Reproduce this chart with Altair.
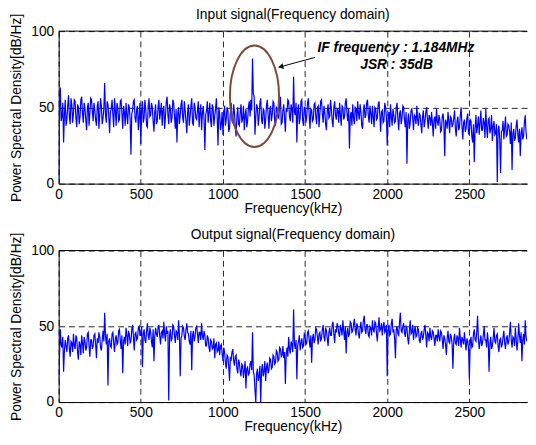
import altair as alt
import pandas as pd

FONT = "Liberation Sans"
FREQ_STEP_KHZ = 5

# PSD of the input signal (dB/Hz), one value every 5 kHz from 0 to 2850 kHz
input_psd = [
    2, 50, 63, 41, 44, 53, 27, 45, 55, 38, 42, 51, 58, 44, 39, 56, 52, 40, 46, 55,
    54, 43, 37, 52, 50, 39, 44, 55, 57, 46, 40, 53, 49, 42, 35, 50, 53, 38, 46, 56,
    55, 47, 41, 53, 48, 42, 38, 51, 54, 36, 45, 56, 51, 39, 43, 49, 66, 45, 40, 54,
    52, 44, 33, 47, 49, 55, 45, 37, 56, 48, 38, 53, 50, 41, 42, 54, 55, 46, 36, 51,
    47, 38, 53, 45, 39, 52, 50, 42, 19, 46, 48, 54, 55, 43, 40, 49, 51, 35, 44, 53,
    26, 48, 54, 40, 43, 55, 49, 38, 37, 51, 56, 44, 45, 53, 50, 41, 34, 47, 52, 39,
    41, 50, 55, 42, 47, 53, 38, 48, 51, 36, 44, 54, 57, 45, 39, 52, 49, 40, 43, 55,
    53, 44, 36, 49, 27, 46, 50, 39, 45, 52, 55, 43, 40, 54, 48, 41, 33, 47, 52, 38,
    44, 51, 56, 40, 38, 53, 50, 43, 42, 48, 54, 37, 47, 52, 35, 46, 51, 42, 22, 45,
    48, 54, 40, 47, 53, 41, 37, 52, 50, 38, 44, 49, 56, 43, 25, 50, 46, 35, 39, 47,
    32, 45, 51, 38, 42, 50, 48, 34, 36, 46, 53, 41, 40, 52, 47, 37, 31, 44, 50, 39,
    38, 47, 52, 40, 43, 51, 35, 45, 49, 37, 41, 50, 54, 44, 55, 48, 82, 59, 57, 32,
    44, 52, 50, 38, 44, 53, 56, 42, 39, 49, 48, 36, 42, 51, 55, 45, 36, 48, 51, 41,
    45, 54, 53, 41, 38, 50, 49, 44, 43, 52, 57, 39, 40, 48, 52, 43, 34, 49, 47, 55,
    54, 44, 41, 52, 49, 40, 70, 47, 45, 53, 27, 48, 52, 39, 43, 54, 55, 42, 38, 50,
    50, 40, 44, 53, 56, 45, 36, 49, 48, 41, 42, 52, 53, 44, 39, 50, 51, 37, 46, 54,
    55, 46, 40, 51, 47, 39, 35, 48, 52, 43, 44, 55, 49, 41, 37, 50, 54, 45, 42, 49,
    48, 40, 53, 45, 38, 51, 50, 42, 44, 53, 56, 46, 41, 49, 23, 44, 47, 38, 52, 43,
    39, 50, 49, 41, 54, 46, 42, 52, 47, 38, 36, 48, 52, 43, 45, 53, 55, 44, 40, 51,
    46, 39, 51, 44, 37, 50, 49, 42, 43, 52, 54, 45, 34, 47, 48, 40, 41, 53, 50, 44,
    25, 43, 47, 37, 52, 44, 38, 49, 45, 40, 41, 50, 53, 42, 35, 46, 48, 39, 43, 51,
    50, 42, 37, 47, 13, 41, 46, 36, 40, 48, 49, 43, 35, 45, 44, 39, 51, 42, 38, 46,
    45, 39, 33, 44, 48, 37, 41, 47, 50, 42, 36, 45, 43, 38, 47, 40, 31, 42, 44, 36,
    49, 41, 38, 45, 42, 34, 35, 44, 46, 39, 18, 42, 40, 36, 47, 41, 33, 44, 43, 37,
    39, 43, 48, 36, 31, 41, 44, 35, 37, 45, 50, 38, 29, 40, 42, 34, 36, 43, 46, 33,
    34, 42, 41, 31, 27, 39, 14, 36, 45, 33, 38, 44, 32, 40, 48, 35, 35, 43, 40, 30,
    49, 37, 30, 42, 43, 33, 36, 45, 28, 38, 41, 32, 33, 39, 1, 35, 38, 29, 7, 34,
    35, 41, 29, 37, 44, 31, 32, 39, 38, 34, 26, 40, 9, 33, 36, 28, 30, 38, 42, 32,
    27, 36, 18, 33, 37, 29, 31, 40, 45, 34, 29,
]

# PSD of the output signal (dB/Hz), same frequency grid
output_psd = [
    15, 30, 48, 38, 36, 43, 20, 34, 41, 37, 33, 42, 44, 35, 30, 40, 39, 33, 45, 37,
    35, 44, 42, 33, 28, 40, 38, 31, 44, 39, 32, 43, 40, 34, 36, 45, 46, 37, 30, 41,
    41, 35, 37, 44, 45, 38, 29, 42, 39, 46, 43, 36, 34, 41, 47, 40, 59, 44, 38, 45,
    11, 40, 42, 37, 36, 45, 46, 39, 33, 42, 44, 38, 39, 47, 48, 41, 35, 44, 19, 40,
    43, 38, 49, 44, 37, 47, 45, 39, 40, 48, 51, 43, 34, 45, 46, 41, 42, 49, 50, 44,
    44, 50, 23, 45, 48, 41, 39, 47, 52, 44, 41, 49, 46, 40, 36, 48, 27, 43, 49, 45,
    43, 49, 51, 44, 38, 46, 47, 42, 53, 45, 40, 50, 45, 47, 1, 44, 48, 40, 42, 51,
    50, 44, 39, 47, 46, 41, 54, 45, 17, 42, 44, 50, 49, 43, 41, 48, 52, 46, 45, 40,
    38, 47, 21, 44, 47, 40, 43, 49, 50, 45, 39, 46, 46, 41, 52, 44, 41, 47, 44, 37,
    37, 44, 42, 36, 33, 41, 40, 35, 36, 42, 29, 38, 39, 33, 34, 40, 31, 37, 38, 32,
    27, 36, 33, 26, 22, 31, 30, 24, 14, 29, 28, 33, 35, 27, 24, 30, 31, 22, 19, 28,
    26, 20, 17, 25, 24, 16, 21, 27, 9, 22, 23, 18, 19, 25, 27, 21, 46, 20, 18, 8,
    0, 19, 22, 14, 17, 24, 0, 21, 25, 17, 20, 27, 14, 23, 26, 19, 21, 29, 28, 22,
    23, 31, 30, 25, 26, 34, 33, 27, 28, 36, 35, 30, 31, 37, 29, 33, 12, 31, 36, 30,
    43, 35, 32, 40, 38, 33, 61, 39, 35, 41, 15, 37, 40, 44, 34, 39, 42, 36, 37, 45,
    44, 38, 39, 46, 47, 41, 36, 44, 26, 42, 45, 39, 41, 49, 48, 43, 38, 45, 46, 40,
    42, 48, 51, 43, 40, 49, 47, 42, 37, 46, 49, 44, 44, 51, 53, 45, 39, 48, 46, 52,
    50, 45, 43, 51, 48, 44, 54, 47, 41, 50, 32, 46, 49, 43, 45, 53, 52, 46, 47, 51,
    55, 48, 44, 52, 50, 45, 42, 49, 53, 46, 47, 54, 57, 48, 45, 51, 51, 44, 43, 50,
    49, 44, 54, 48, 46, 53, 52, 45, 40, 49, 56, 47, 48, 52, 44, 50, 53, 46, 47, 51,
    17, 47, 51, 44, 45, 52, 55, 46, 48, 42, 29, 48, 50, 45, 44, 53, 59, 47, 46, 50,
    52, 46, 43, 50, 49, 42, 38, 47, 54, 45, 46, 51, 41, 47, 50, 43, 44, 49, 48, 41,
    39, 45, 47, 41, 43, 48, 51, 44, 36, 46, 45, 40, 49, 43, 41, 47, 46, 42, 37, 44,
    44, 40, 48, 43, 40, 47, 46, 41, 35, 44, 42, 38, 31, 42, 47, 40, 39, 45, 43, 38,
    22, 41, 45, 39, 38, 44, 42, 37, 49, 42, 36, 43, 41, 38, 46, 40, 34, 42, 40, 36,
    15, 39, 43, 36, 37, 45, 48, 41, 40, 46, 57, 42, 35, 40, 44, 37, 39, 44, 50, 41,
    41, 36, 46, 40, 20, 38, 43, 35, 37, 42, 49, 40, 39, 44, 45, 37, 33, 41, 42, 36,
    38, 43, 47, 39, 35, 42, 44, 38, 40, 46, 53, 41, 36, 43, 42, 37, 49, 42, 34, 40,
    52, 44, 39, 46, 27, 41, 45, 38, 54, 43, 40,
]

freq_khz = [i * FREQ_STEP_KHZ for i in range(len(input_psd))]

x_ticks = [0, 500, 1000, 1500, 2000, 2500]
y_ticks = [0, 50, 100]
x_max = 2851

panel_titles = ["Input signal(Frequency domain)", "Output signal(Frequency domain)"]
x_title = "Frequency(kHz)"
y_title = "Power Spectral Density[dB/Hz]"

ann_text = ["IF frequency : 1.184MHz", "JSR : 35dB"]
ann_x = [2053, 2057]
ann_y = [88.8, 77.7]
ellipse_x = [1192]
ellipse_y = [57.3]
arrow_x = [1561]
arrow_y = [82.8]
arrow_x2 = [1340]
arrow_y2 = [76.3]
head_x = [1357]
head_y = [76.8]

PLOT_W = 476
ELLIPSE_PATH = "M0,-1A0.485,1,0,1,1,0,1A0.485,1,0,1,1,0,-1Z"


def panel(values, title, height, annotate):
    xs = alt.Scale(domain=[0, x_max], nice=False, zero=False)
    ys = alt.Scale(domain=[0, 100], nice=False)
    x_axis = alt.Axis(values=x_ticks, title=x_title, grid=True, ticks=False, tickSize=0,
                      labelPadding=4, titlePadding=0, labelFlush=False, format="d")
    y_axis = alt.Axis(values=y_ticks, title=y_title, grid=True, ticks=False, tickSize=0,
                      labelPadding=5, titlePadding=7.5, labelFlush=False)

    def X(field):
        return alt.X(field, scale=xs, axis=x_axis, title=x_title)

    def Y(field):
        return alt.Y(field, scale=ys, axis=y_axis, title=y_title)

    df = pd.DataFrame({"f": freq_khz, "p": values})
    line = alt.Chart(df).mark_line(color="#0000ff", strokeWidth=1.2, clip=True).encode(
        x=X("f:Q"), y=Y("p:Q"),
    )
    top = alt.Chart(pd.DataFrame({"v": [100]})).mark_rule(color="black", strokeWidth=1).encode(
        y=Y("v:Q")
    )
    head_title = alt.Chart(pd.DataFrame({"t": [title]})).mark_text(
        font=FONT, fontSize=14, color="black", align="center", baseline="alphabetic",
    ).encode(text="t:N", x=alt.value(PLOT_W / 2), y=alt.value(-12))
    layers = [line, top, head_title]
    if annotate:
        ell = alt.Chart(pd.DataFrame({"x": ellipse_x, "y": ellipse_y})).mark_point(
            shape=ELLIPSE_PATH, filled=False, size=10609, strokeWidth=2,
            color="#7b4a3c", opacity=1,
        ).encode(x=X("x:Q"), y=Y("y:Q"))
        arr = alt.Chart(pd.DataFrame({"x": arrow_x, "y": arrow_y, "x2": arrow_x2, "y2": arrow_y2})).mark_rule(
            color="black", strokeWidth=1
        ).encode(x=X("x:Q"), y=Y("y:Q"), x2="x2:Q", y2="y2:Q")
        head = alt.Chart(pd.DataFrame({"x": head_x, "y": head_y})).mark_point(
            shape="triangle", filled=True, size=35, angle=256, color="black", opacity=1
        ).encode(x=X("x:Q"), y=Y("y:Q"))
        txt = alt.Chart(pd.DataFrame({"x": ann_x, "y": ann_y, "t": ann_text})).mark_text(
            font=FONT, fontSize=14, fontWeight="bold", fontStyle="italic", color="black",
            align="center", baseline="middle",
        ).encode(x=X("x:Q"), y=Y("y:Q"), text="t:N")
        layers += [ell, arr, head, txt]
    return alt.layer(*layers).properties(width=PLOT_W, height=height)


chart = alt.vconcat(
    panel(input_psd, panel_titles[0], 155, True),
    panel(output_psd, panel_titles[1], 154, False),
    spacing=68,
    bounds="flush",
).resolve_scale(x="independent", y="independent").resolve_axis(
    x="independent", y="independent"
).properties(
    padding={"left": 1.5, "top": -3, "right": 0, "bottom": 0},
).configure_view(stroke=None).configure_axis(
    domainColor="black", domainWidth=1,
    labelFont=FONT, labelFontSize=14, labelColor="black",
    titleFont=FONT, titleFontSize=14, titleFontWeight="normal", titleColor="black",
    gridColor="#262626", gridDash=[6, 4], gridOpacity=1, gridWidth=1,
)

chart.save("out.html", embed_options={"renderer": "svg", "actions": False})
